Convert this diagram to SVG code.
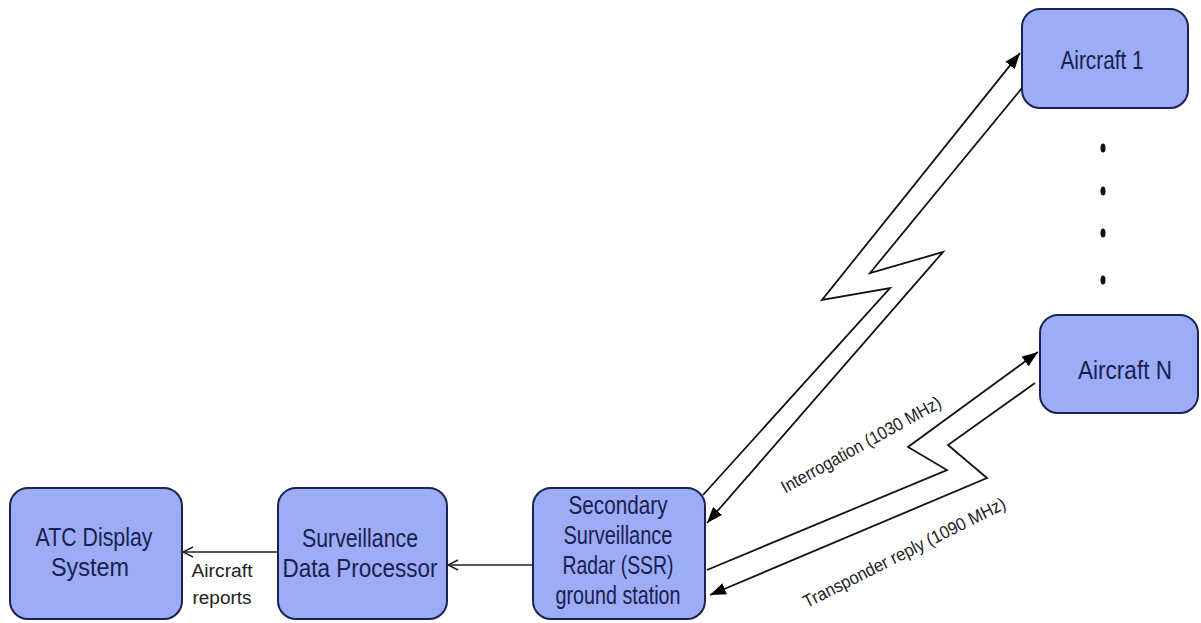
<svg xmlns="http://www.w3.org/2000/svg" width="1201" height="623" viewBox="0 0 1201 623">
<defs>
<marker id="open" viewBox="0 0 12 12" refX="11" refY="6" markerWidth="12" markerHeight="12" markerUnits="userSpaceOnUse" orient="auto">
<path d="M1,1 L11,6 L1,11" fill="none" stroke="#222" stroke-width="1.5"/>
</marker>
<marker id="fill" viewBox="0 0 16 12" refX="16" refY="6" markerWidth="16" markerHeight="12" markerUnits="userSpaceOnUse" orient="auto">
<path d="M0,0 L16,6 L0,12 z" fill="#000"/>
</marker>
</defs>
<style>
.box{fill:#9cacf6;stroke:#1c2352;stroke-width:2}
.lbl{font-family:"Liberation Sans",Arial,sans-serif;font-size:26px;fill:#1a2050;text-anchor:middle}
.sm{font-family:"Liberation Sans",Arial,sans-serif;font-size:18px;fill:#222;text-anchor:middle}
.conn{fill:none;stroke:#222;stroke-width:1.5}
.bolt{fill:none;stroke:#111;stroke-width:1.8;stroke-linejoin:miter}
</style>
<rect width="1201" height="623" fill="#fff"/>
<g id="atc">
<rect class="box" x="10" y="488" width="172" height="131" rx="18"/>
<text class="lbl" x="94" y="546" textLength="117" lengthAdjust="spacingAndGlyphs">ATC Display</text>
<text class="lbl" x="90" y="576" textLength="78" lengthAdjust="spacingAndGlyphs">System</text>
</g>
<g id="sdp">
<rect class="box" x="278" y="488" width="169" height="131" rx="18"/>
<text class="lbl" x="360" y="547" textLength="116" lengthAdjust="spacingAndGlyphs">Surveillance</text>
<text class="lbl" x="360" y="577" textLength="155" lengthAdjust="spacingAndGlyphs">Data Processor</text>
</g>
<g id="ssr">
<rect class="box" x="533" y="488" width="172" height="131" rx="18"/>
<text class="lbl" x="618" y="514" textLength="99" lengthAdjust="spacingAndGlyphs">Secondary</text>
<text class="lbl" x="618" y="544" textLength="109" lengthAdjust="spacingAndGlyphs">Surveillance</text>
<text class="lbl" x="618" y="574" textLength="111" lengthAdjust="spacingAndGlyphs">Radar (SSR)</text>
<text class="lbl" x="618" y="604" textLength="125" lengthAdjust="spacingAndGlyphs">ground station</text>
</g>
<g id="aircraft1">
<rect class="box" x="1022" y="9" width="166" height="99" rx="18"/>
<text class="lbl" x="1102" y="69" textLength="83" lengthAdjust="spacingAndGlyphs">Aircraft 1</text>
</g>
<g id="aircraftN">
<rect class="box" x="1040" y="315" width="158" height="98" rx="18"/>
<text class="lbl" x="1125" y="379" textLength="94" lengthAdjust="spacingAndGlyphs">Aircraft N</text>
</g>
<g id="dots" fill="#111">
<ellipse cx="1103" cy="148" rx="2.5" ry="4.5"/>
<ellipse cx="1103" cy="191" rx="2.5" ry="4.5"/>
<ellipse cx="1103" cy="233" rx="2.5" ry="4.5"/>
<ellipse cx="1103" cy="280" rx="2.5" ry="4.5"/>
</g>
<g id="connectors">
<path class="conn" d="M533,565 L448,565" marker-end="url(#open)"/>
<path class="conn" d="M278,552 L183,552" marker-end="url(#open)"/>
<polyline class="bolt" points="703,495 890,288 822,300 1020,53" marker-end="url(#fill)"/>
<polyline class="bolt" points="1022,88 870,273 943,252 707,523" marker-end="url(#fill)"/>
<polyline class="bolt" points="707,570 947,470 908,447 1038,352" marker-end="url(#fill)"/>
<polyline class="bolt" points="1035,383 948,445 987,478 710,595" marker-end="url(#fill)"/>
<text class="sm" x="222" y="577" textLength="61" lengthAdjust="spacingAndGlyphs">Aircraft</text>
<text class="sm" x="222" y="604" textLength="59" lengthAdjust="spacingAndGlyphs">reports</text>
<text class="sm" transform="translate(864,450) rotate(-29)" x="0" y="0" textLength="180" lengthAdjust="spacingAndGlyphs">Interrogation (1030 MHz)</text>
<text class="sm" transform="translate(907,558) rotate(-26.6)" x="0" y="0" textLength="224" lengthAdjust="spacingAndGlyphs">Transponder reply (1090 MHz)</text>
</g>
</svg>
